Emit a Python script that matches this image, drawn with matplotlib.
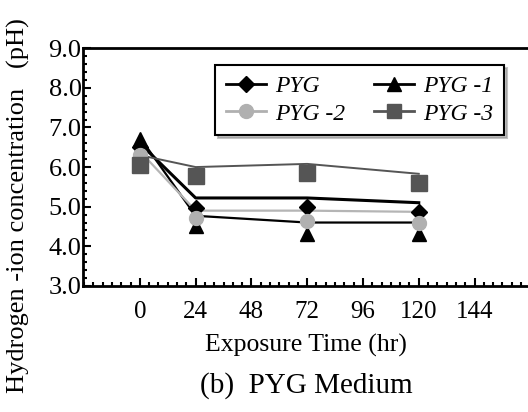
import numpy as np
import matplotlib.pyplot as plt
from matplotlib.ticker import MultipleLocator

plt.rcParams['font.family'] = ['Liberation Serif', 'DejaVu Serif']

# exposure times (hr)
t = [0, 24, 72, 120]
# measured pH (markers)
pyg = [6.5, 4.97, 4.98, 4.87]
pyg1 = [6.7, 4.5, 4.32, 4.32]
pyg2 = [6.3, 4.72, 4.65, 4.6]
pyg3 = [6.05, 5.78, 5.85, 5.6]
# fitted curves (lines)
pyg_fit = [6.6, 5.22, 5.22, 5.1]
pyg1_fit = [6.75, 4.77, 4.6, 4.6]
pyg2_fit = [6.4, 4.9, 4.9, 4.87]
pyg3_fit = [6.3, 6.0, 6.08, 5.83]

labels = ['PYG', 'PYG -1', 'PYG -2', 'PYG -3']
xticks = [0, 24, 48, 72, 96, 120, 144]
yticks = [3.0, 4.0, 5.0, 6.0, 7.0, 8.0, 9.0]

fig = plt.figure(figsize=(5.28, 4.12), dpi=100)
ax = fig.add_axes([0.157, 0.306, 0.843, 0.577])

ax.plot(t, pyg_fit, color='black', lw=2.2)
ax.plot(t, pyg1_fit, color='black', lw=1.6)
ax.plot(t, pyg2_fit, color='#b5b5b5', lw=1.6)
ax.plot(t, pyg3_fit, color='#555555', lw=1.4)

ax.plot(t, pyg, 'D', color='black', ms=8.5)
ax.plot(t, pyg1, '^', color='black', ms=10)
ax.plot(t, pyg2, 'o', color='#b0b0b0', ms=10)
ax.plot(t, pyg3, 's', color='#555555', ms=11)

# legend handles with line + marker
lh1, = ax.plot([], [], '-D', color='black', ms=8.5, lw=2)
lh2, = ax.plot([], [], '-^', color='black', ms=10, lw=2)
lh3, = ax.plot([], [], '-o', color='#b0b0b0', ms=10, lw=2)
lh4, = ax.plot([], [], '-s', color='#555555', ms=10, lw=2)
leg = ax.legend([lh1, lh3, lh2, lh4], [labels[0], labels[2], labels[1], labels[3]],
                ncol=2, loc='upper left', bbox_to_anchor=(0.297, 0.929),
                borderaxespad=0,
                prop={'style': 'italic', 'size': 17}, frameon=True, fancybox=False,
                shadow={'color': '#888888'}, edgecolor='black',
                handlelength=1.7, columnspacing=1.2, labelspacing=0.25,
                borderpad=0.45, handletextpad=0.4)
leg.get_frame().set_linewidth(1.5)

ax.set_xlim(-24.5, 167)
ax.set_ylim(3.0, 9.0)
ax.set_xticks(xticks)
ax.set_yticks(yticks)
ax.set_yticklabels(['%.1f' % v for v in yticks])
ax.xaxis.set_minor_locator(MultipleLocator(4))
ax.yaxis.set_minor_locator(MultipleLocator(0.2))
ax.tick_params(which='both', direction='in', top=False, right=False, width=1.5)
ax.tick_params(which='major', length=6)
ax.tick_params(which='minor', length=3)
ax.tick_params(axis='x', pad=11, labelsize=18)
ax.tick_params(axis='y', pad=1, labelsize=19)
for s in ['left', 'bottom', 'top']:
    ax.spines[s].set_linewidth(2)
ax.spines['right'].set_visible(False)

ax.set_xlabel('Exposure Time (hr)', fontsize=18.5, labelpad=8)
fig.text(0.035, 0.5, 'Hydrogen -ion concentration   (pH)', rotation=90,
         fontsize=19, ha='center', va='center')
fig.text(0.58, 0.065, '(b)  PYG Medium', fontsize=21, ha='center', va='center')

plt.savefig('out.png', dpi=100)
